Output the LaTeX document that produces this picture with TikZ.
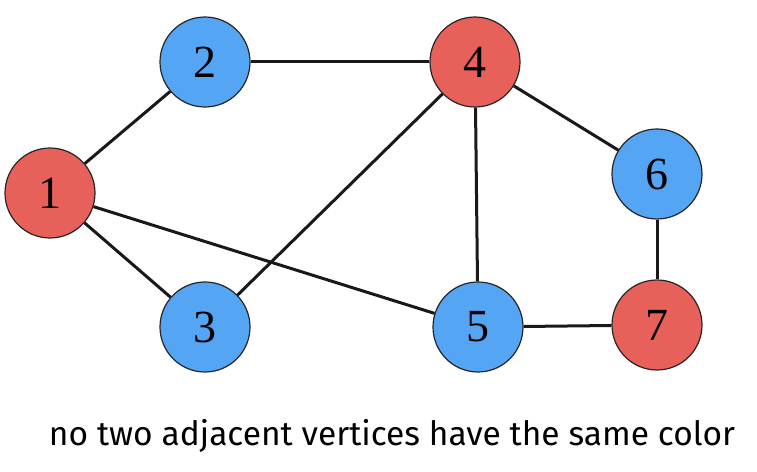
\documentclass[tikz,border=0pt]{standalone}
\usepackage{fontspec}
\newfontfamily\capfont{Fira Sans}
\newfontfamily\numfont{Liberation Serif}
\definecolor{vred}{HTML}{E8605A}
\definecolor{vblue}{HTML}{55A5F5}
\begin{document}
\begin{tikzpicture}[x=1pt,y=1pt,
  vtx/.style={circle,draw=black!85,line width=1.2pt,minimum size=90pt,inner sep=0pt,font=\numfont\fontsize{46}{46}\selectfont},
  rv/.style={vtx,fill=vred},
  bv/.style={vtx,fill=vblue},
  edge/.style={line width=3pt,black!90}]
\useasboundingbox (0,0) rectangle (757,471);
\node[rv] (n1) at (50,278) {1};
\node[bv] (n2) at (205,409) {2};
\node[bv] (n3) at (205,144) {3};
\node[rv] (n4) at (475,409) {4};
\node[bv] (n5) at (478,144) {5};
\node[bv] (n6) at (657,297) {6};
\node[rv] (n7) at (657,146) {7};
\draw[edge] (n1) -- (n2);
\draw[edge] (n1) -- (n3);
\draw[edge] (n1) -- (n5);
\draw[edge] (n2) -- (n4);
\draw[edge] (n3) -- (n4);
\draw[edge] (n4) -- (n5);
\draw[edge] (n4) -- (n6);
\draw[edge] (n5) -- (n7);
\draw[edge] (n6) -- (n7);
\node[font=\capfont\fontsize{33.5}{34}\selectfont] (cap) at (392,35) {no two adjacent vertices have the same color};
\end{tikzpicture}
\end{document}
